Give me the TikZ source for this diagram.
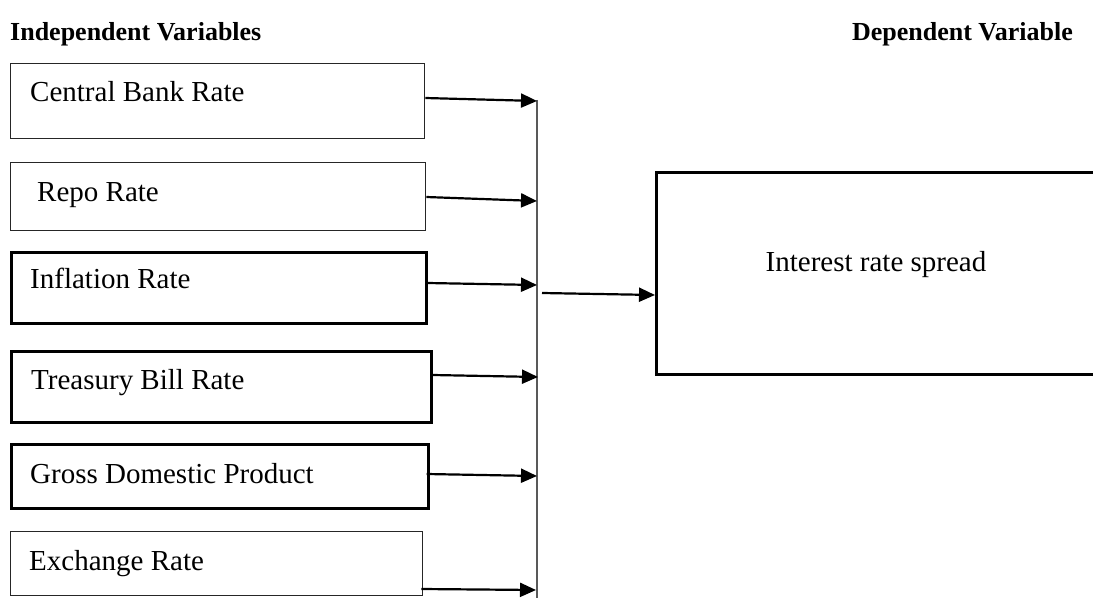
\documentclass[tikz,border=0pt]{standalone}
\usepackage{fontspec}
\setmainfont{Liberation Serif}
\usetikzlibrary{arrows.meta}

\tikzset{
  varbox/.style={draw, rectangle, inner sep=0pt, anchor=north west},
  thinbox/.style={varbox, line width=1.3pt, draw=black!85},
  thickbox/.style={varbox, line width=2.6pt},
  lbl/.style={anchor=base west, inner sep=0pt, font=\fontsize{29}{34}\selectfont},
  head/.style={inner sep=0pt, font=\fontsize{26}{31}\selectfont\bfseries},
  arr/.style={line width=2.2pt, -{Triangle[length=16pt,width=14pt]}},
  bus/.style={line width=1.3pt, draw=black!65}
}

\begin{document}
\begin{tikzpicture}[x=1pt, y=-1pt]
  \useasboundingbox (0,0) rectangle (1093,602);
  \clip (0,0) rectangle (1093,602);

  % column headings
  \node[head, anchor=base west] (hind) at (10,41) {Independent Variables};
  \node[head, anchor=base east] (hdep) at (1073,41) {Dependent Variable};

  % independent variable boxes
  \node[thinbox,  minimum width=414pt, minimum height=75pt] (cb)  at (10,63)  {};
  \node[thinbox,  minimum width=415pt, minimum height=68pt] (rp)  at (10,162) {};
  \node[thickbox, minimum width=415pt, minimum height=71pt] (ir)  at (10,251) {};
  \node[thickbox, minimum width=420pt, minimum height=71pt] (tb)  at (10,350) {};
  \node[thickbox, minimum width=417pt, minimum height=64pt] (gdp) at (10,443) {};
  \node[thinbox,  minimum width=412pt, minimum height=64pt] (er)  at (10,531) {};

  \node[lbl] (cbt)  at (30,101)  {Central Bank Rate};
  \node[lbl] (rpt)  at (37,201)  {Repo Rate};
  \node[lbl] (irt)  at (30,288)  {Inflation Rate};
  \node[lbl] (tbt)  at (31,389)  {Treasury Bill Rate};
  \node[lbl] (gdpt) at (30,483)  {Gross Domestic Product};
  \node[lbl] (ert)  at (29,570)  {Exchange Rate};

  % dependent variable box (runs past the right edge)
  \node[thickbox, minimum width=500pt, minimum height=202pt] (dv) at (655,171) {};
  \node[anchor=base, inner sep=0pt, font=\fontsize{29}{34}\selectfont] (dvt) at (876,271) {Interest rate spread};

  % collecting line
  \coordinate (btop) at (537,100);
  \coordinate (bbot) at (537,598);
  \draw[bus] (btop) -- (bbot);

  \coordinate (t1) at (537,101);
  \coordinate (t2) at (537,201);
  \coordinate (t3) at (537,285);
  \coordinate (t4) at (538,377);
  \coordinate (t5) at (537,476);
  \coordinate (t6) at (536,590);

  \draw[arr] (cb.east |- 0,98)  -- (t1);
  \draw[arr] (rp.east |- 0,197) -- (t2);
  \draw[arr] (ir.east |- 0,283) -- (t3);
  \draw[arr] (tb.east |- 0,375) -- (t4);
  \draw[arr] ([xshift=-3pt]gdp.east |- 0,474) -- (t5);
  \draw[arr] ([xshift=-2pt]er.east |- 0,589) -- (t6);

  % joint effect on the dependent variable
  \coordinate (out) at (542,293);
  \draw[arr] (out) -- (dv.west |- 0,295);
\end{tikzpicture}
\end{document}
